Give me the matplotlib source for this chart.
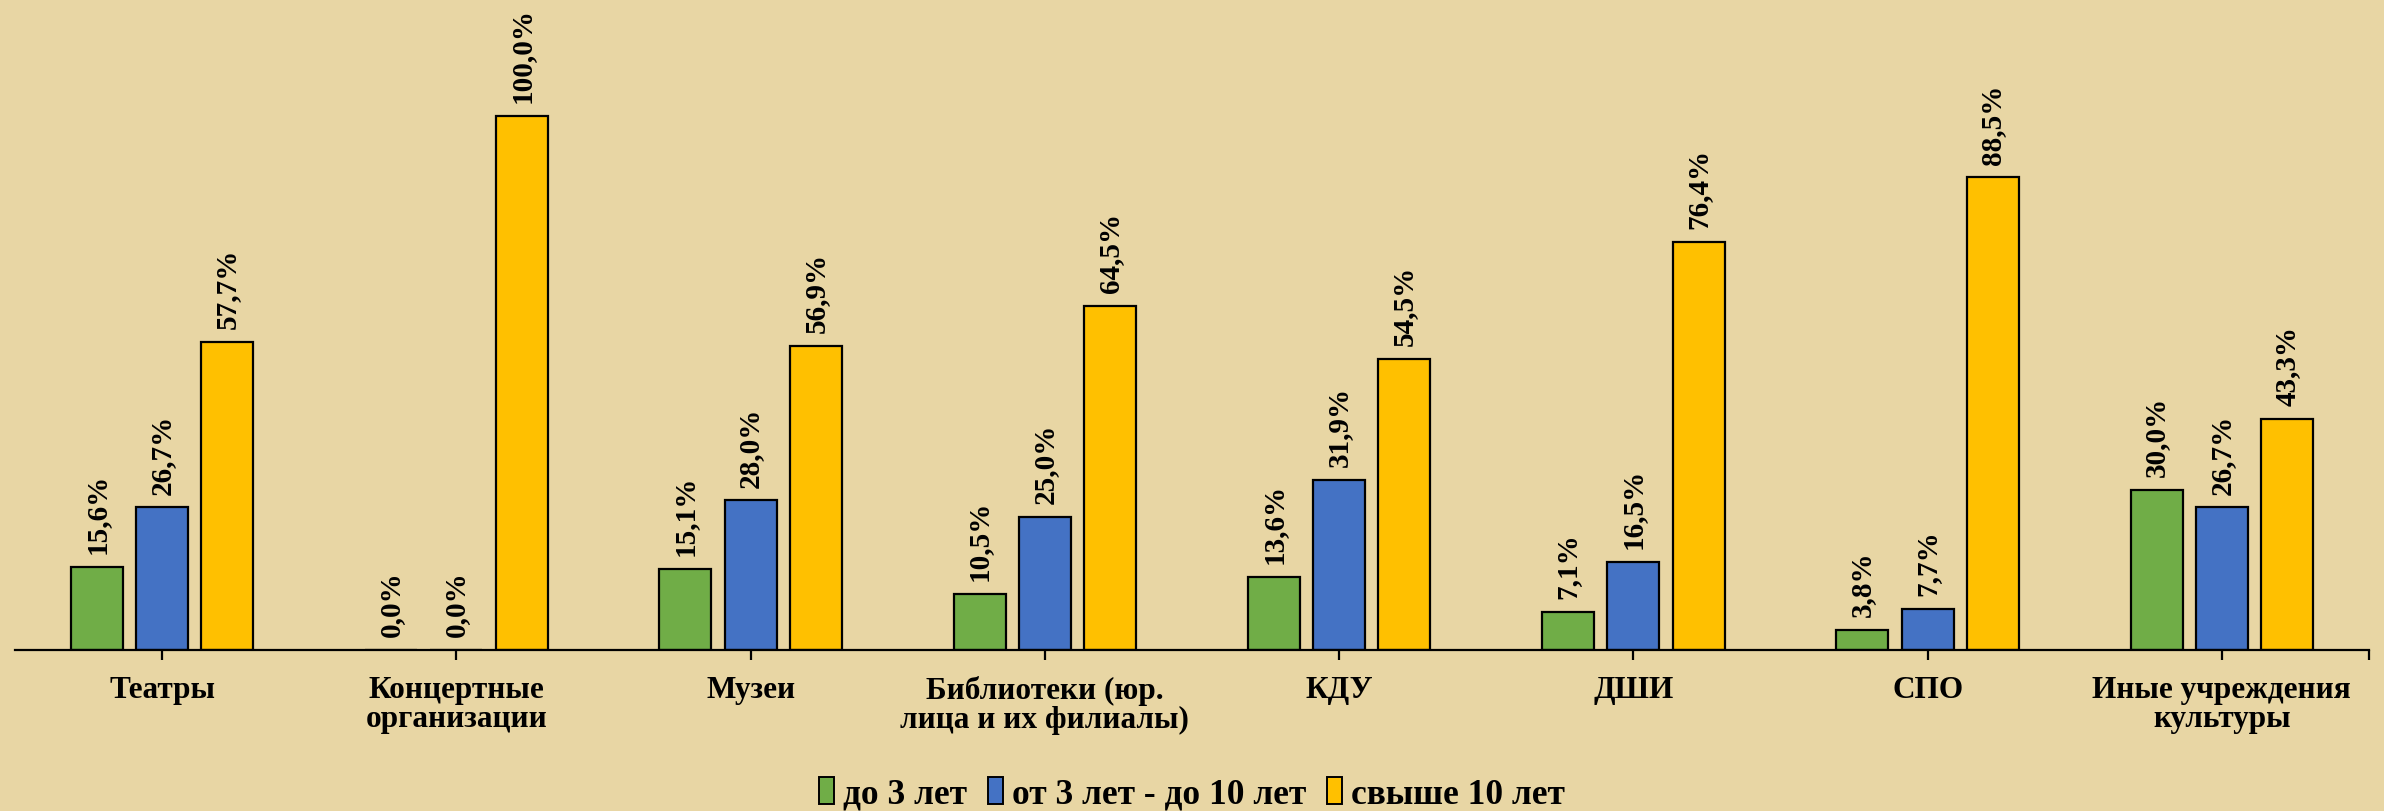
import matplotlib
matplotlib.use("Agg")
import matplotlib.pyplot as plt
import numpy as np
from matplotlib.patches import Patch

categories = ["Театры", "Концертные\nорганизации", "Музеи", "Библиотеки (юр.\nлица и их филиалы)",
              "КДУ", "ДШИ", "СПО", "Иные учреждения\nкультуры"]
series_names = ["до 3 лет", "от 3 лет - до 10 лет", "свыше 10 лет"]
up_to_3 = [15.6, 0.0, 15.1, 10.5, 13.6, 7.1, 3.8, 30.0]
from_3_to_10 = [26.7, 0.0, 28.0, 25.0, 31.9, 16.5, 7.7, 26.7]
over_10 = [57.7, 100.0, 56.9, 64.5, 54.5, 76.4, 88.5, 43.3]
colors = ["#70AD47", "#4472C4", "#FFC000"]

plt.rcParams['font.family'] = ['Liberation Serif', 'DejaVu Serif']
plt.rcParams['font.weight'] = 'bold'

bg = "#E8D6A4"
fig = plt.figure(figsize=(23.84, 8.12), dpi=100, facecolor=bg)
ax = fig.add_axes([15/2384, 1-651/812, 2354/2384, 651/812])
ax.set_facecolor("none")

x = np.arange(len(categories))
width = 0.177
pitch = 0.222
for i, (vals, c) in enumerate(zip([up_to_3, from_3_to_10, over_10], colors)):
    pos = x + (i - 1) * pitch
    ax.bar(pos, vals, width=width, color=c, edgecolor="black", linewidth=1.6, label=series_names[i])
    for xp, v in zip(pos, vals):
        ax.annotate(f"{v:.1f}%".replace(".", ","), xy=(xp, v), xytext=(0, 10),
                    textcoords="offset points", rotation=90, ha="center", va="bottom",
                    fontsize=21, fontweight="bold")

ax.set_xlim(-0.5, len(categories) - 0.5)
ax.set_ylim(0, 651/534*100)
for s in ["top", "right", "left"]:
    ax.spines[s].set_visible(False)
ax.spines["bottom"].set_linewidth(1.6)
ax.set_yticks([])
ax.set_xticks(x)
ax.set_xticklabels(categories, fontsize=22.5, fontweight="bold", linespacing=1.0)
ax.set_xticks([len(categories) - 0.5], minor=True)
ax.tick_params(axis="x", which="both", direction="out", length=7, width=1.6, pad=11)

handles = [Patch(facecolor=c, edgecolor="black", linewidth=1.4) for c in colors]
fig.legend(handles, series_names, loc="center", bbox_to_anchor=(0.5, 1-795/812), ncol=3,
           frameon=False, prop={"family": "Liberation Serif", "weight": "bold", "size": 25.5},
           handlelength=0.42, handleheight=0.8, handletextpad=0.25, columnspacing=0.6)

fig.savefig("out.png", dpi=100, facecolor=bg)
